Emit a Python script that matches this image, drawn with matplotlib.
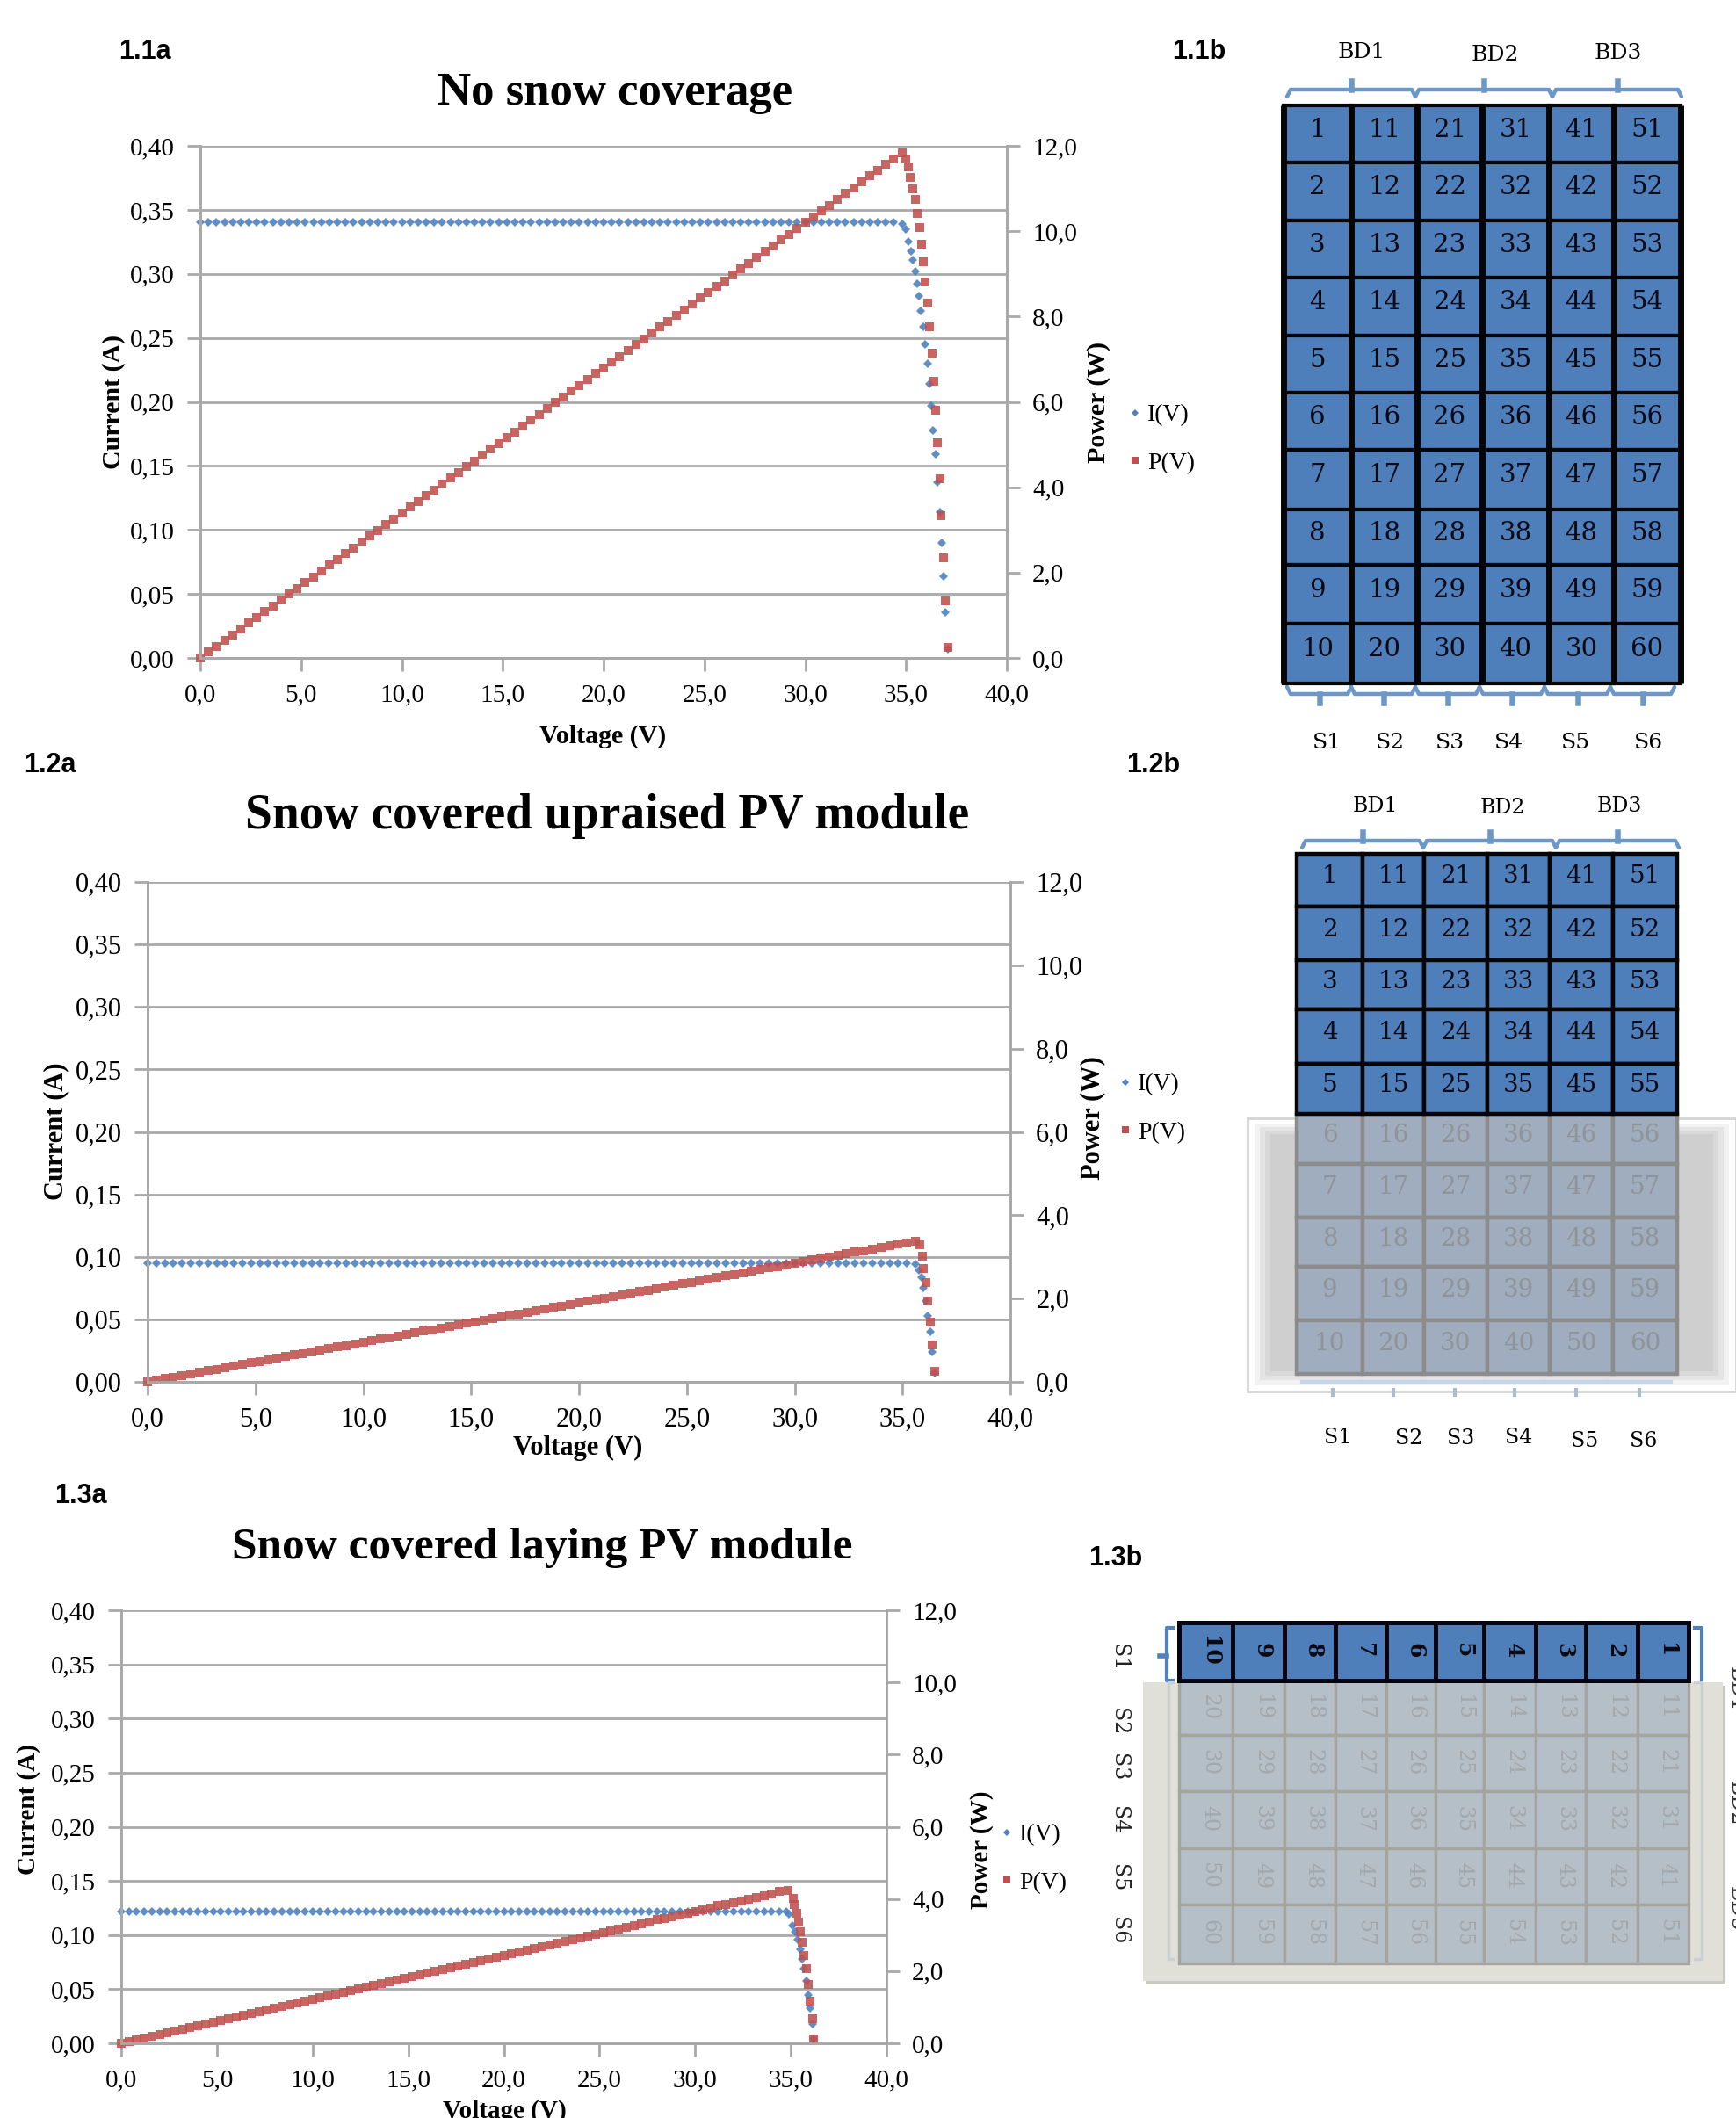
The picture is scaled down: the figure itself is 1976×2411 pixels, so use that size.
import matplotlib
matplotlib.use("Agg")
import matplotlib.pyplot as plt
from matplotlib.lines import Line2D
from matplotlib.patches import Rectangle

W, H = 1976, 2411
BLUE = "#4f81bd"
RED = "#c0504d"
GRID = "#a9a9a9"
SERIF = "Liberation Serif"

# voltage sweep shared by the straight part of all three curves
SWEEP_V = [0.0, 0.4, 0.8, 1.2, 1.6, 2.0, 2.4, 2.8, 3.2, 3.6, 4.0, 4.4, 4.8, 5.2, 5.6, 6.0, 6.4, 6.8, 7.2, 7.6, 8.0,
           8.4, 8.8, 9.2, 9.6, 10.0, 10.4, 10.8, 11.2, 11.6, 12.0, 12.4, 12.8, 13.2, 13.6, 14.0, 14.4, 14.8, 15.2,
           15.6, 16.0, 16.4, 16.8, 17.2, 17.6, 18.0, 18.4, 18.8, 19.2, 19.6, 20.0, 20.4, 20.8, 21.2, 21.6, 22.0,
           22.4, 22.8, 23.2, 23.6, 24.0, 24.4, 24.8, 25.2, 25.6, 26.0, 26.4, 26.8, 27.2, 27.6, 28.0, 28.4, 28.8,
           29.2, 29.6, 30.0, 30.4, 30.8, 31.2, 31.6, 32.0, 32.4, 32.8, 33.2, 33.6, 34.0, 34.4]

# 1.1a no snow
P1_FLAT = [0.00, 0.14, 0.27, 0.41, 0.54, 0.68, 0.82, 0.95, 1.09, 1.22, 1.36, 1.50, 1.63, 1.77, 1.90, 2.04, 2.18, 2.31,
           2.45, 2.58, 2.72, 2.86, 2.99, 3.13, 3.26, 3.40, 3.54, 3.67, 3.81, 3.94, 4.08, 4.22, 4.35, 4.49, 4.62, 4.76,
           4.90, 5.03, 5.17, 5.30, 5.44, 5.58, 5.71, 5.85, 5.98, 6.12, 6.26, 6.39, 6.53, 6.66, 6.80, 6.94, 7.07, 7.21,
           7.34, 7.48, 7.62, 7.75, 7.89, 8.02, 8.16, 8.30, 8.43, 8.57, 8.70, 8.84, 8.98, 9.11, 9.25, 9.38, 9.52, 9.66,
           9.79, 9.93, 10.06, 10.20, 10.34, 10.47, 10.61, 10.74, 10.88, 11.02, 11.15, 11.29, 11.42, 11.56, 11.70]
P1_TAIL_V = [34.8, 35.0, 35.1, 35.2, 35.33, 35.48, 35.57, 35.7, 35.77, 35.88, 35.96, 36.07, 36.17, 36.28, 36.38,
             36.49, 36.57, 36.7, 36.75, 36.87, 36.96, 37.07]
P1_TAIL = [11.83, 11.7, 11.5, 11.25, 11.0, 10.75, 10.42, 10.09, 9.69, 9.29, 8.81, 8.31, 7.77, 7.15, 6.49, 5.81, 5.04,
           4.2, 3.33, 2.35, 1.34, 0.25]
I1_TAIL_V = [34.8, 35.0, 35.1, 35.25, 35.33, 35.48, 35.55, 35.65, 35.75, 35.87, 35.96, 36.07, 36.16, 36.26, 36.35,
             36.48, 36.57, 36.7, 36.77, 36.88, 36.96, 37.07]
I1_TAIL = [0.339, 0.335, 0.325, 0.318, 0.311, 0.302, 0.2925, 0.283, 0.271, 0.259, 0.245, 0.23, 0.214, 0.197, 0.178,
           0.159, 0.137, 0.114, 0.09, 0.064, 0.036, 0.007]

# 1.2a upraised module
P2_FLAT = [0.00, 0.04, 0.08, 0.11, 0.15, 0.19, 0.23, 0.27, 0.30, 0.34, 0.38, 0.42, 0.46, 0.49, 0.53, 0.57, 0.61, 0.65,
           0.68, 0.72, 0.76, 0.80, 0.84, 0.87, 0.91, 0.95, 0.99, 1.03, 1.06, 1.10, 1.14, 1.18, 1.22, 1.25, 1.29, 1.33,
           1.37, 1.41, 1.44, 1.48, 1.52, 1.56, 1.60, 1.63, 1.67, 1.71, 1.75, 1.79, 1.82, 1.86, 1.90, 1.94, 1.98, 2.01,
           2.05, 2.09, 2.13, 2.17, 2.20, 2.24, 2.28, 2.32, 2.36, 2.39, 2.43, 2.47, 2.51, 2.55, 2.58, 2.62, 2.66, 2.70,
           2.74, 2.77, 2.81, 2.85, 2.89, 2.93, 2.96, 3.00, 3.04, 3.08, 3.12, 3.15, 3.19, 3.23, 3.27]
P2_TAIL_V = [34.8, 35.2, 35.6, 35.82, 35.92, 35.97, 36.1, 36.16, 36.29, 36.38, 36.5]
P2_TAIL = [3.31, 3.34, 3.38, 3.28, 3.02, 2.73, 2.38, 1.94, 1.43, 0.88, 0.26]
I2_TAIL_V = [34.8, 35.2, 35.6, 35.75, 35.9, 35.97, 36.07, 36.16, 36.3, 36.37, 36.5]
I2_TAIL = [0.095, 0.095, 0.094, 0.0895, 0.0835, 0.075, 0.065, 0.053, 0.04, 0.024, 0.007]

# 1.3a laying module
P3_FLAT = [0.00, 0.05, 0.10, 0.15, 0.20, 0.24, 0.29, 0.34, 0.39, 0.44, 0.49, 0.54, 0.59, 0.63, 0.68, 0.73, 0.78, 0.83,
           0.88, 0.93, 0.98, 1.02, 1.07, 1.12, 1.17, 1.22, 1.27, 1.32, 1.37, 1.41, 1.46, 1.51, 1.56, 1.61, 1.66, 1.71,
           1.76, 1.80, 1.85, 1.90, 1.95, 2.00, 2.05, 2.10, 2.15, 2.20, 2.24, 2.29, 2.34, 2.39, 2.44, 2.49, 2.54, 2.59,
           2.63, 2.68, 2.73, 2.78, 2.83, 2.88, 2.93, 2.98, 3.02, 3.07, 3.12, 3.17, 3.22, 3.27, 3.32, 3.37, 3.42, 3.46,
           3.51, 3.56, 3.61, 3.66, 3.71, 3.76, 3.81, 3.85, 3.90, 3.95, 4.00, 4.05, 4.10, 4.15, 4.20]
P3_TAIL_V = [34.85, 35.12, 35.18, 35.3, 35.43, 35.52, 35.6, 35.7, 35.8, 35.9, 36.0, 36.12, 36.2]
P3_TAIL = [4.24, 4.02, 3.85, 3.61, 3.37, 3.09, 2.81, 2.44, 2.06, 1.64, 1.18, 0.67, 0.13]
I3_TAIL_V = [34.77, 34.9, 35.08, 35.23, 35.38, 35.5, 35.6, 35.7, 35.8, 35.9, 36.0, 36.12, 36.2]
I3_TAIL = [0.1215, 0.119, 0.109, 0.103, 0.0957, 0.087, 0.078, 0.069, 0.058, 0.045, 0.0325, 0.018, 0.004]

I_TICKS = [0.00, 0.05, 0.10, 0.15, 0.20, 0.25, 0.30, 0.35, 0.40]
P_TICKS = [0, 2, 4, 6, 8, 10, 12]
V_TICKS = [0, 5, 10, 15, 20, 25, 30, 35, 40]

# module cell numbers, S1..S6 columns
CELLS = [[1, 2, 3, 4, 5, 6, 7, 8, 9, 10],
         [11, 12, 13, 14, 15, 16, 17, 18, 19, 20],
         [21, 22, 23, 24, 25, 26, 27, 28, 29, 30],
         [31, 32, 33, 34, 35, 36, 37, 38, 39, 40],
         [41, 42, 43, 44, 45, 46, 47, 48, 49, 50],
         [51, 52, 53, 54, 55, 56, 57, 58, 59, 60]]
CELLS_1B = [c[:] for c in CELLS]
CELLS_1B[4][9] = 30  # the source figure prints 30 here


def comma(value, digits):
    return f"{value:.{digits}f}".replace(".", ",")


def iv_chart(fig, box, flat_i, flat_p, p_tail_v, p_tail, i_tail_v, i_tail, title, title_xy, labels, legend_xy, sizes):
    left, top, right, bottom = box
    title_size, tick_size, label_size = sizes
    ax = fig.add_axes([left / W, 1 - bottom / H, (right - left) / W, (bottom - top) / H])
    ax2 = ax.twinx()
    ax.set_xlim(0, 40)
    ax.set_ylim(0, 0.40)
    ax2.set_ylim(0, 12)
    ax.set_zorder(1)
    ax2.set_zorder(2)
    ax.grid(axis="y", color=GRID, lw=2.0)
    ax.set_axisbelow(True)
    ax.plot(SWEEP_V + i_tail_v, [flat_i] * len(SWEEP_V) + i_tail, ls="none", marker="D", ms=4.6, mew=0, color=BLUE,
            alpha=0.9, clip_on=False)
    ax2.plot(SWEEP_V + p_tail_v, flat_p + p_tail, ls="none", marker="s", ms=7.2, color=RED, mew=0, alpha=0.88,
             clip_on=False)
    ax.set_xticks(V_TICKS, [comma(v, 1) for v in V_TICKS])
    ax.set_yticks(I_TICKS, [comma(v, 2) for v in I_TICKS])
    ax2.set_yticks(P_TICKS, [comma(v, 1) for v in P_TICKS])
    for a in (ax, ax2):
        a.patch.set_visible(False)
        a.tick_params(length=11, width=2, color=GRID, labelsize=tick_size, pad=10)
        for s in a.spines.values():
            s.set_color(GRID)
            s.set_linewidth(2.0)
        for t in a.get_xticklabels() + a.get_yticklabels():
            t.set_family(SERIF)
    ax.spines["top"].set_visible(False)
    ax2.spines["top"].set_visible(False)

    fig.text(title_xy[0] / W, 1 - title_xy[1] / H, title, family=SERIF, weight="bold", size=title_size, ha="center",
             va="center")
    xl, yl, pl = labels
    fig.text(xl[0] / W, 1 - xl[1] / H, "Voltage (V)", family=SERIF, weight="bold", size=label_size, ha="center",
             va="center")
    fig.text(yl[0] / W, 1 - yl[1] / H, "Current (A)", family=SERIF, weight="bold", size=label_size, ha="center",
             va="center", rotation=90)
    fig.text(pl[0] / W, 1 - pl[1] / H, "Power (W)", family=SERIF, weight="bold", size=label_size, ha="center",
             va="center", rotation=90)
    handles = [Line2D([], [], ls="none", marker="D", ms=4, mew=0, color=BLUE, label="I(V)"),
               Line2D([], [], ls="none", marker="s", ms=6, color=RED, mew=0, label="P(V)")]
    fig.legend(handles=handles, loc="center left", bbox_to_anchor=(legend_xy[0] / W, 1 - legend_xy[1] / H), frameon=False,
               prop={"family": SERIF, "size": 20}, handlelength=0.6, handletextpad=0.2, labelspacing=1.05, borderpad=0,
               borderaxespad=0)


def cell_grid(ov, xedges, yedges, rows, fill, edge, text, lw, size, zorder=5):
    for c in range(len(xedges) - 1):
        for r in rows:
            ov.add_patch(Rectangle((xedges[c], yedges[r]), xedges[c + 1] - xedges[c], yedges[r + 1] - yedges[r],
                                   fc=fill, ec=edge, lw=lw, zorder=zorder))
            ov.text((xedges[c] + xedges[c + 1]) / 2, yedges[r] + (yedges[r + 1] - yedges[r]) * 0.43, str(text[0][c][r]),
                    family="DejaVu Serif", size=size, color=text[1], ha="center", va="center", zorder=zorder + 1)


def brace_h(ov, x0, x1, y, direction, color=BLUE, lw=3.2, zorder=3, alpha=1.0):
    mid = (x0 + x1) / 2
    ov.plot([x0, x0 + 4, x1 - 4, x1], [y + 8 * -direction, y, y, y + 8 * -direction], color=color, lw=lw, zorder=zorder,
            alpha=alpha, solid_capstyle="round")
    ov.plot([mid, mid], [y, y + 10 * direction], color=color, lw=lw + 1.5, zorder=zorder, alpha=alpha)


fig = plt.figure(figsize=(W / 100, H / 100), dpi=100, facecolor="white")

iv_chart(fig, (228, 166, 1146, 749), 0.34, P1_FLAT, P1_TAIL_V, P1_TAIL, I1_TAIL_V, I1_TAIL, "No snow coverage",
         (700, 106), ((686, 838), (129, 457), (1250, 458)), (1284, 500), (38, 21, 21.5))
iv_chart(fig, (168, 1004, 1150, 1573), 0.095, P2_FLAT, P2_TAIL_V, P2_TAIL, I2_TAIL_V, I2_TAIL,
         "Snow covered upraised PV module", (691, 929), ((658, 1648), (64, 1288), (1244, 1273)), (1273, 1262),
         (40, 22, 22))
iv_chart(fig, (138, 1833, 1009, 2326), 0.122, P3_FLAT, P3_TAIL_V, P3_TAIL, I3_TAIL_V, I3_TAIL,
         "Snow covered laying PV module", (617, 1762), ((574, 2403), (33, 2060), (1117, 2106)), (1138, 2116),
         (37, 21, 21))

# overlay in figure pixels for the module sketches
ov = fig.add_axes([0, 0, 1, 1], zorder=10)
ov.set_xlim(0, W)
ov.set_ylim(H, 0)
ov.axis("off")

for label, x, y in [("1.1a", 165, 59), ("1.1b", 1365, 59), ("1.2a", 57, 871), ("1.2b", 1313, 871), ("1.3a", 92, 1703),
                    ("1.3b", 1270, 1774)]:
    ov.text(x, y, label, family="Liberation Sans", weight="bold", size=22, ha="center", va="center")

# 1.1b
xs = [1461, 1538, 1613, 1687, 1763, 1837, 1913]
ys = [120, 185, 251, 316, 382, 447, 512, 580, 643, 710, 778]
cell_grid(ov, xs, ys, range(10), "#4f7fba", "#050505", (CELLS_1B, "#0a0a14"), 3.0, 21)
for x in xs:
    ov.plot([x, x], [ys[0], ys[-1]], color="#050505", lw=5, zorder=7, solid_capstyle="butt")
for text, x, y in [("BD1", 1550, 59), ("BD2", 1702, 62), ("BD3", 1842, 60)]:
    ov.text(x, y, text, family="DejaVu Serif", size=18, ha="center", va="center")
for a, b in [(1465, 1611), (1611, 1767), (1767, 1914)]:
    brace_h(ov, a, b, 102, -1, color="#6d97c6")
for a, b in zip([1465, 1538, 1611, 1684, 1758, 1833], [1538, 1611, 1684, 1758, 1833, 1906]):
    brace_h(ov, a, b, 790, 1, color="#6d97c6")
for text, x in zip(["S1", "S2", "S3", "S4", "S5", "S6"], [1510, 1582, 1650, 1717, 1793, 1876]):
    ov.text(x, 845, text, family="DejaVu Serif", size=18, ha="center", va="center")

# 1.2b, snow box first then the greyed rows
xs = [1476, 1551, 1621, 1693, 1764, 1836, 1909]
ys = [972, 1032, 1093, 1149, 1211, 1268, 1325, 1386, 1442, 1503, 1564]
ov.add_patch(Rectangle((1420, 1273), 556, 311, fc="white", ec="#d4d4d4", lw=2, zorder=2))
for inset, shade in [(8, "#f2f2f2"), (14, "#e4e4e4"), (20, "#d9d9d9"), (26, "#cfcfcf")]:
    ov.add_patch(Rectangle((1420 + inset, 1273 + inset * 0.7), 556 - 2 * inset, 311 - 1.6 * inset, fc=shade, ec="none",
                           zorder=2))
cell_grid(ov, xs, ys, range(5, 10), "#a0adbf", "#8c8c8c", (CELLS, "#8f9498"), 3.2, 20)
cell_grid(ov, xs, ys, range(5), "#4f7fba", "#050505", (CELLS, "#0a0a14"), 3.2, 20, zorder=7)
for text, x, y in [("BD1", 1565, 917), ("BD2", 1710, 919), ("BD3", 1843, 917)]:
    ov.text(x, y, text, family="DejaVu Serif", size=17, ha="center", va="center")
for a, b in [(1482, 1620), (1620, 1771), (1771, 1911)]:
    brace_h(ov, a, b, 957, -1, color="#6d97c6")
for a, b in zip([1482, 1551, 1621, 1690, 1758, 1830], [1551, 1621, 1690, 1758, 1830, 1902]):
    ov.plot([a, b], [1573, 1573], color="#c4d5ea", lw=3, zorder=3)
    ov.plot([(a + b) / 2, (a + b) / 2], [1582, 1588], color="#a9bbd2", lw=3, zorder=3)
for text, x, y in [("S1", 1523, 1636), ("S2", 1604, 1637), ("S3", 1663, 1637), ("S4", 1729, 1636), ("S5", 1804, 1640),
                   ("S6", 1871, 1640)]:
    ov.text(x, y, text, family="DejaVu Serif", size=17, ha="center", va="center")

# 1.3b is the same module lying on its side: S rows run down, cell 1 sits on the right
xs = [1342, 1403, 1462, 1520, 1578, 1634, 1689, 1748, 1805, 1864, 1922]
ys = [1847, 1913, 1975, 2039, 2104, 2168, 2235]
ov.add_patch(Rectangle((1304, 1919), 660, 340, fc="#c9c9c4", ec="none", zorder=2))
ov.add_patch(Rectangle((1301, 1915), 660, 340, fc="#e0e0d9", ec="none", zorder=2))
for r in range(6):
    first = r == 0
    for c in range(10):
        ov.add_patch(Rectangle((xs[c], ys[r]), xs[c + 1] - xs[c], ys[r + 1] - ys[r],
                               fc="#4f7fba" if first else "#b4bfc8", ec="#050512" if first else "#a5a59e",
                               lw=3.6 if first else 2.4, zorder=7 if first else 5))
        ov.text((xs[c] + xs[c + 1]) / 2 + 4, (ys[r] + ys[r + 1]) / 2 - 1, str(CELLS[r][9 - c]), family="DejaVu Serif",
                size=18 if first else 17, weight="bold" if first else "normal", color="#0a0a14" if first else "#a3a8ac",
                rotation=270, ha="center", va="center", zorder=8)
for text, y in zip(["S1", "S2", "S3", "S4", "S5", "S6"], [1887, 1960, 2012, 2072, 2138, 2198]):
    ov.text(1273, y, text, family="DejaVu Serif", size=17, rotation=270, ha="center", va="center", color="#222222")
# BD labels run off the right edge in the reference too
for text, y in [("BD1", 1923), ("BD2", 2053), ("BD3", 2173)]:
    ov.text(1965, y, text, family="DejaVu Serif", size=17, rotation=270, ha="left", va="center", color="#333333",
            clip_on=True)
ov.plot([1335, 1328, 1328, 1335], [1853, 1853, 1913, 1913], color=BLUE, lw=3, zorder=3)
ov.plot([1320, 1328], [1885, 1885], color=BLUE, lw=4, zorder=3)
ov.plot([1929, 1937, 1937], [1853, 1853, 1913], color=BLUE, lw=3, zorder=3)
ov.plot([1335, 1330, 1330, 1335], [1915, 1915, 2230, 2230], color="#c9cfd4", lw=2.5, zorder=3)
ov.plot([1929, 1937, 1937, 1929], [1915, 1915, 2230, 2230], color="#c9cfd4", lw=2.5, zorder=3)

fig.savefig("out.png", dpi=100)
